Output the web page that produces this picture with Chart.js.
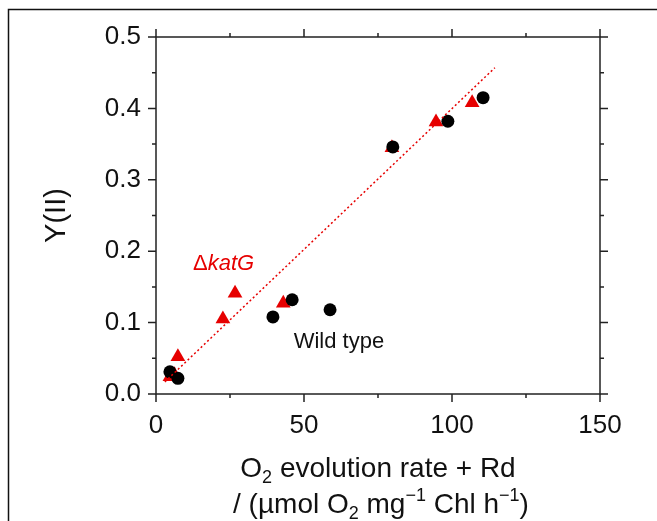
<!DOCTYPE html>
<html>
<head>
<meta charset="utf-8">
<script src="https://cdn.jsdelivr.net/npm/chart.js@4.4.1/dist/chart.umd.min.js"></script>
<style>
  html, body { margin: 0; padding: 0; background: #fff; }
  #wrap { width: 657px; height: 521px; }
</style>
</head>
<body>
<div id="wrap"><canvas id="chart" width="657" height="521"></canvas></div>
<script>
// data
const wildX = [4.7, 7.4, 39.5, 46.0, 58.8, 80.0, 98.6, 110.5];
const wildY = [0.031, 0.022, 0.108, 0.132, 0.118, 0.346, 0.382, 0.415];
const katX = [4.7, 6.2, 7.4, 22.6, 26.7, 43.0, 79.7, 94.6, 106.8];
const katY = [0.024, 0.027, 0.052, 0.105, 0.141, 0.127, 0.345, 0.381, 0.408];
const fitX = [3.0, 114.5];
const fitY = [0.017, 0.457];

const xMajor = [0, 50, 100, 150];
const xMinor = [25, 75, 125];
const yMajor = [0, 0.1, 0.2, 0.3, 0.4, 0.5];
const yMinor = [0.05, 0.15, 0.25, 0.35, 0.45];

const FONT = "'Liberation Sans', Arial, sans-serif";
const RED = "#e60000";

function pts(xs, ys) {
  return xs.map((x, i) => ({ x: x, y: ys[i] }));
}

// draws a line of text with sub/superscript parts, centred on cx
function drawRich(ctx, parts, cx, baseline) {
  let total = 0;
  parts.forEach((p) => {
    ctx.font = (p.italic ? "italic " : "") + p.size + "px " + FONT;
    p.w = ctx.measureText(p.t).width;
    total += p.w;
  });
  drawRichLeft(ctx, parts, cx - total / 2, baseline);
}

function drawRichLeft(ctx, parts, x0, baseline) {
  let x = x0;
  ctx.textAlign = "left";
  ctx.textBaseline = "alphabetic";
  parts.forEach((p) => {
    ctx.font = (p.italic ? "italic " : "") + p.size + "px " + FONT;
    ctx.fillText(p.t, x, baseline + (p.dy || 0));
    x += ctx.measureText(p.t).width;
  });
}

const framePlugin = {
  id: "framePlugin",
  beforeDraw(chart) {
    const ctx = chart.ctx;
    ctx.save();
    ctx.fillStyle = "#fff";
    ctx.fillRect(0, 0, chart.width, chart.height);
    // outer figure frame (left and top only visible)
    ctx.strokeStyle = "#111";
    ctx.lineWidth = 1.5;
    ctx.beginPath();
    ctx.moveTo(8.5, chart.height);
    ctx.lineTo(8.5, 9.5);
    ctx.lineTo(chart.width, 9.5);
    ctx.stroke();
    ctx.restore();
  },
  afterDraw(chart) {
    const ctx = chart.ctx;
    const a = chart.chartArea;
    const xs = chart.scales.x;
    const ys = chart.scales.y;
    ctx.save();
    ctx.strokeStyle = "#222";
    ctx.lineWidth = 1.5;
    ctx.strokeRect(a.left, a.top, a.right - a.left, a.bottom - a.top);

    function tickX(v, len) {
      const px = xs.getPixelForValue(v);
      ctx.moveTo(px, a.bottom);
      ctx.lineTo(px, a.bottom + len);
      ctx.moveTo(px, a.top);
      ctx.lineTo(px, a.top - len);
    }
    function tickY(v, len) {
      const py = ys.getPixelForValue(v);
      ctx.moveTo(a.left, py);
      ctx.lineTo(a.left - len, py);
      ctx.moveTo(a.right, py);
      ctx.lineTo(a.right + len, py);
    }
    ctx.beginPath();
    xMajor.forEach((v) => tickX(v, 8));
    xMinor.forEach((v) => tickX(v, 4));
    yMajor.forEach((v) => tickY(v, 8));
    yMinor.forEach((v) => tickY(v, 4));
    ctx.stroke();

    // in-plot labels
    ctx.fillStyle = RED;
    drawRichLeft(ctx, [
      { t: "\u0394", size: 22 },
      { t: "katG", size: 22, italic: true },
    ], xs.getPixelForValue(12.5), ys.getPixelForValue(0.174));
    ctx.fillStyle = "#111";
    drawRichLeft(ctx, [{ t: "Wild type", size: 22 }],
      xs.getPixelForValue(46.5), ys.getPixelForValue(0.064));

    // x axis title
    const cx = (a.left + a.right) / 2;
    ctx.fillStyle = "#111";
    drawRich(ctx, [
      { t: "O", size: 28 },
      { t: "2", size: 18, dy: 6 },
      { t: " evolution rate + Rd", size: 28 },
    ], cx, 477);
    drawRich(ctx, [
      { t: "/ (\u00b5mol O", size: 28 },
      { t: "2", size: 18, dy: 6 },
      { t: " mg", size: 28 },
      { t: "\u22121", size: 18, dy: -12 },
      { t: " Chl h", size: 28 },
      { t: "\u22121", size: 18, dy: -12 },
      { t: ")", size: 28 },
    ], cx + 3, 513);
    ctx.restore();
  },
};

new Chart(document.getElementById("chart"), {
  type: "scatter",
  data: {
    datasets: [
      {
        type: "line",
        data: pts(fitX, fitY),
        borderColor: RED,
        borderWidth: 1.5,
        borderDash: [2, 2.5],
        pointRadius: 0,
        fill: false,
      },
      {
        data: pts(wildX, wildY),
        pointStyle: "circle",
        pointRadius: 6.5,
        backgroundColor: "#000",
        borderColor: "#000",
        borderWidth: 0,
      },
      {
        data: pts(katX, katY),
        pointStyle: "triangle",
        pointRadius: 8.5,
        backgroundColor: RED,
        borderColor: RED,
        borderWidth: 0,
      },
    ],
  },
  options: {
    responsive: false,
    animation: false,
    layout: { padding: { top: 37, right: 57, bottom: 0, left: 0 } },
    plugins: {
      legend: { display: false },
      tooltip: { enabled: false },
    },
    scales: {
      x: {
        type: "linear",
        min: 0,
        max: 150,
        grid: { display: false },
        border: { display: false },
        ticks: {
          stepSize: 50,
          padding: 8,
          color: "#111",
          font: { family: FONT, size: 26 },
        },
        afterFit: (s) => { s.height = 127; },
      },
      y: {
        min: 0,
        max: 0.5,
        grid: { display: false },
        border: { display: false },
        ticks: {
          stepSize: 0.1,
          padding: 7,
          color: "#111",
          font: { family: FONT, size: 26 },
          callback: (v) => v.toFixed(1),
        },
        title: {
          display: true,
          text: "Y(II)",
          color: "#111",
          font: { family: FONT, size: 29 },
          padding: { top: 40, bottom: 0 },
        },
        afterFit: (s) => { s.width = 156; },
      },
    },
  },
  plugins: [framePlugin],
});
</script>
</body>
</html>
